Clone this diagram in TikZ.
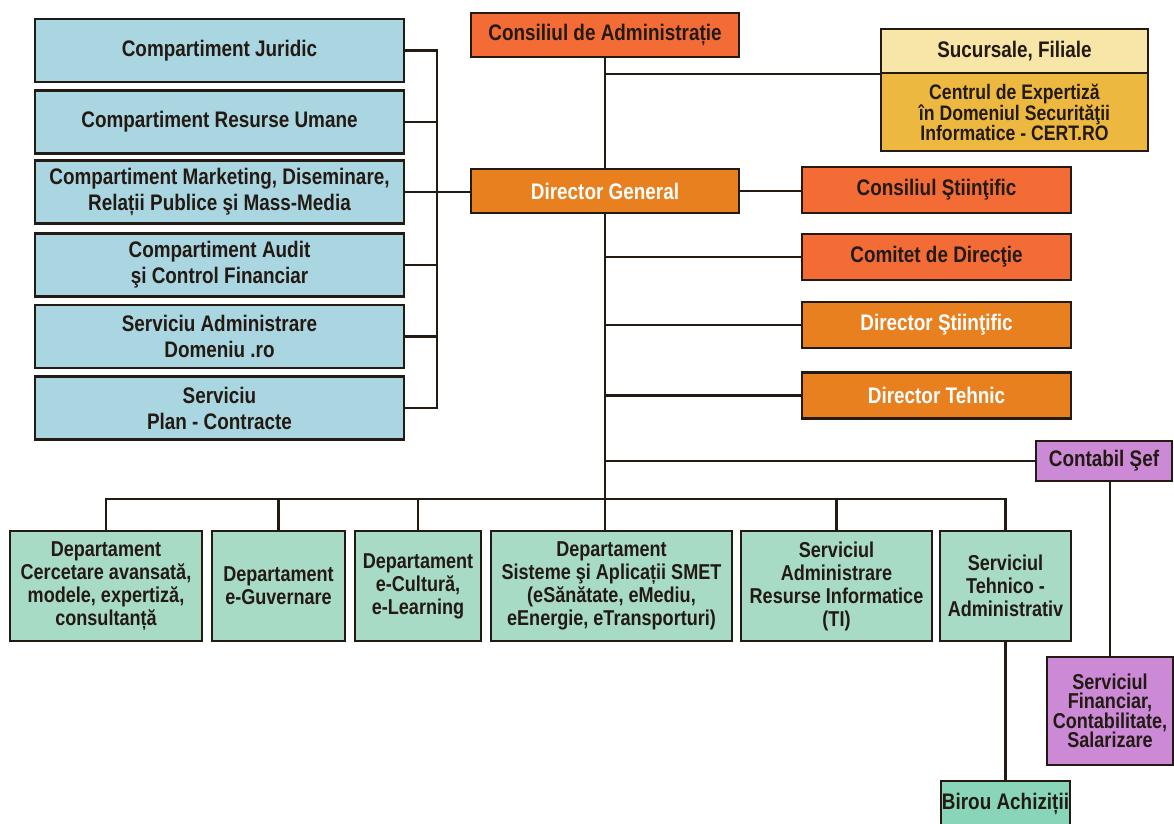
\documentclass[tikz,border=0pt]{standalone}
\usepackage{fontspec}
\setmainfont{Liberation Sans}[FakeStretch=0.84]
\usepackage{xcolor}
\usepackage{tikz}
\usetikzlibrary{positioning,calc}

\definecolor{boxblue}{HTML}{A9D6E1}
\definecolor{boxgreen}{HTML}{A8DBC6}
\definecolor{boxteal}{HTML}{88D5B9}
\definecolor{boxpurple}{HTML}{CC8AD6}
\definecolor{boxred}{HTML}{F36C35}
\definecolor{boxorange}{HTML}{E8801F}
\definecolor{boxcream}{HTML}{F8E5A8}
\definecolor{boxgold}{HTML}{ECB840}
\definecolor{inkdark}{HTML}{231A14}

\tikzset{
  orgbox/.style={draw=inkdark, line width=2.2pt, align=center, inner sep=1pt,
    text=inkdark, font=\bfseries\fontsize{22.5}{26}\selectfont},
  bluebox/.style={orgbox, fill=boxblue, minimum width=369pt, minimum height=63pt},
  redbox/.style={orgbox, fill=boxred, minimum height=46pt},
  orangebox/.style={orgbox, fill=boxorange, text=white, minimum height=46pt},
  deptbox/.style={orgbox, fill=boxgreen, minimum height=110pt,
    font=\bfseries\fontsize{21.5}{23}\selectfont},
  purplebox/.style={orgbox, fill=boxpurple},
  link/.style={draw=inkdark, line width=2.2pt, line cap=rect},
}

\begin{document}
\begin{tikzpicture}[x=1pt,y=-1pt]
    \useasboundingbox (0,0) rectangle (1174,823);

    % Board and general director
    \node[redbox, minimum width=268pt, minimum height=44pt] (ca) at (605,35) {Consiliul de Administrație};
    \node[orangebox, minimum width=268pt, minimum height=44pt] (dg) at (605,191) {Director General};

    % Branches
    \node[orgbox, fill=boxcream, minimum width=267pt, minimum height=44pt] (suc) at (1014.5,51) {Sucursale, Filiale};
    \node[orgbox, fill=boxgold, minimum width=267pt, minimum height=78pt,
          font=\bfseries\fontsize{21}{20}\selectfont] (cert) at (1014.5,112)
          {Centrul de Expertiză\\în Domeniul Securităţii\\Informatice - CERT.RO};

    % Staff compartments
    \node[bluebox] (jur) at (219.5,50.5) {Compartiment Juridic};
    \node[bluebox] (rum) at (219.5,122) {Compartiment Resurse Umane};
    \node[bluebox] (mkt) at (219.5,192) {Compartiment Marketing, Diseminare,\\Relații Publice şi Mass-Media};
    \node[bluebox] (aud) at (219.5,265) {Compartiment Audit\\şi Control Financiar};
    \node[bluebox] (dom) at (219.5,336.5) {Serviciu Administrare\\Domeniu .ro};
    \node[bluebox] (plan) at (219.5,408) {Serviciu\\Plan - Contracte};

    % Councils and directors
    \node[redbox, minimum width=269pt] (cs) at (936.5,190) {Consiliul Ştiinţific};
    \node[redbox, minimum width=269pt] (cd) at (936.5,257) {Comitet de Direcţie};
    \node[orangebox, minimum width=269pt] (ds) at (936.5,325) {Director Ştiinţific};
    \node[orangebox, minimum width=269pt] (dt) at (936.5,395.5) {Director Tehnic};

    % Accounting
    \node[purplebox, minimum width=136pt, minimum height=40pt] (cont) at (1104,461) {Contabil Şef};
    \node[purplebox, minimum width=126pt, minimum height=108pt,
          font=\bfseries\fontsize{21.5}{19.5}\selectfont] (fin) at (1110,711)
          {Serviciul\\Financiar,\\Contabilitate,\\Salarizare};

    % Departments
    \node[deptbox, minimum width=192pt] (cer) at (106,586) {Departament\\Cercetare avansată,\\modele, expertiză,\\consultanță};
    \node[deptbox, minimum width=133pt] (egu) at (278.5,586) {Departament\\e-Guvernare};
    \node[deptbox, minimum width=126pt] (ecu) at (418,586) {Departament\\e-Cultură,\\e-Learning};
    \node[deptbox, minimum width=241pt] (smet) at (611.5,586) {Departament\\Sisteme şi Aplicații SMET\\(eSănătate, eMediu,\\eEnergie, eTransporturi)};
    \node[deptbox, minimum width=191pt] (sari) at (836.5,586) {Serviciul\\Administrare\\Resurse Informatice\\(TI)};
    \node[deptbox, minimum width=131pt] (teh) at (1005.5,586) {Serviciul\\Tehnico -\\Administrativ};
    \node[orgbox, fill=boxteal, minimum width=128pt, minimum height=46pt] (bir) at (1005.5,804) {Birou Achiziții};

    % Staff bracket
    \coordinate (brk) at (437,0);
    \foreach \nm in {jur,rum,aud,dom,plan}
        \draw[link] (\nm.east) -- (\nm.east -| brk);
    \draw[link] (jur.east -| brk) -- (plan.east -| brk);
    \draw[link] (mkt.east) -- (mkt.east -| dg.west);

    % Main line
    \draw[link] (ca.south) -- (dg.north);
    \draw[link] (ca.south |- suc.south west) -- (suc.south west);
    \draw[link] (dg.east) -- (dg.east -| cs.west);
    \foreach \nm in {cd,ds,dt,cont}
        \draw[link] (dg.south |- \nm.west) -- (\nm.west);
    \draw[link] (dg.south) -- (dg.south |- smet.north);

    % Department bus
    \coordinate (bus) at (0,499);
    \draw[link] (cer.north |- bus) -- (teh.north |- bus);
    \foreach \nm in {cer,egu,ecu,sari,teh}
        \draw[link] (\nm.north |- bus) -- (\nm.north);
    \draw[link] (teh.south) -- (bir.north);
    \draw[link] (fin.north |- cont.south) -- (fin.north);
\end{tikzpicture}
\end{document}
